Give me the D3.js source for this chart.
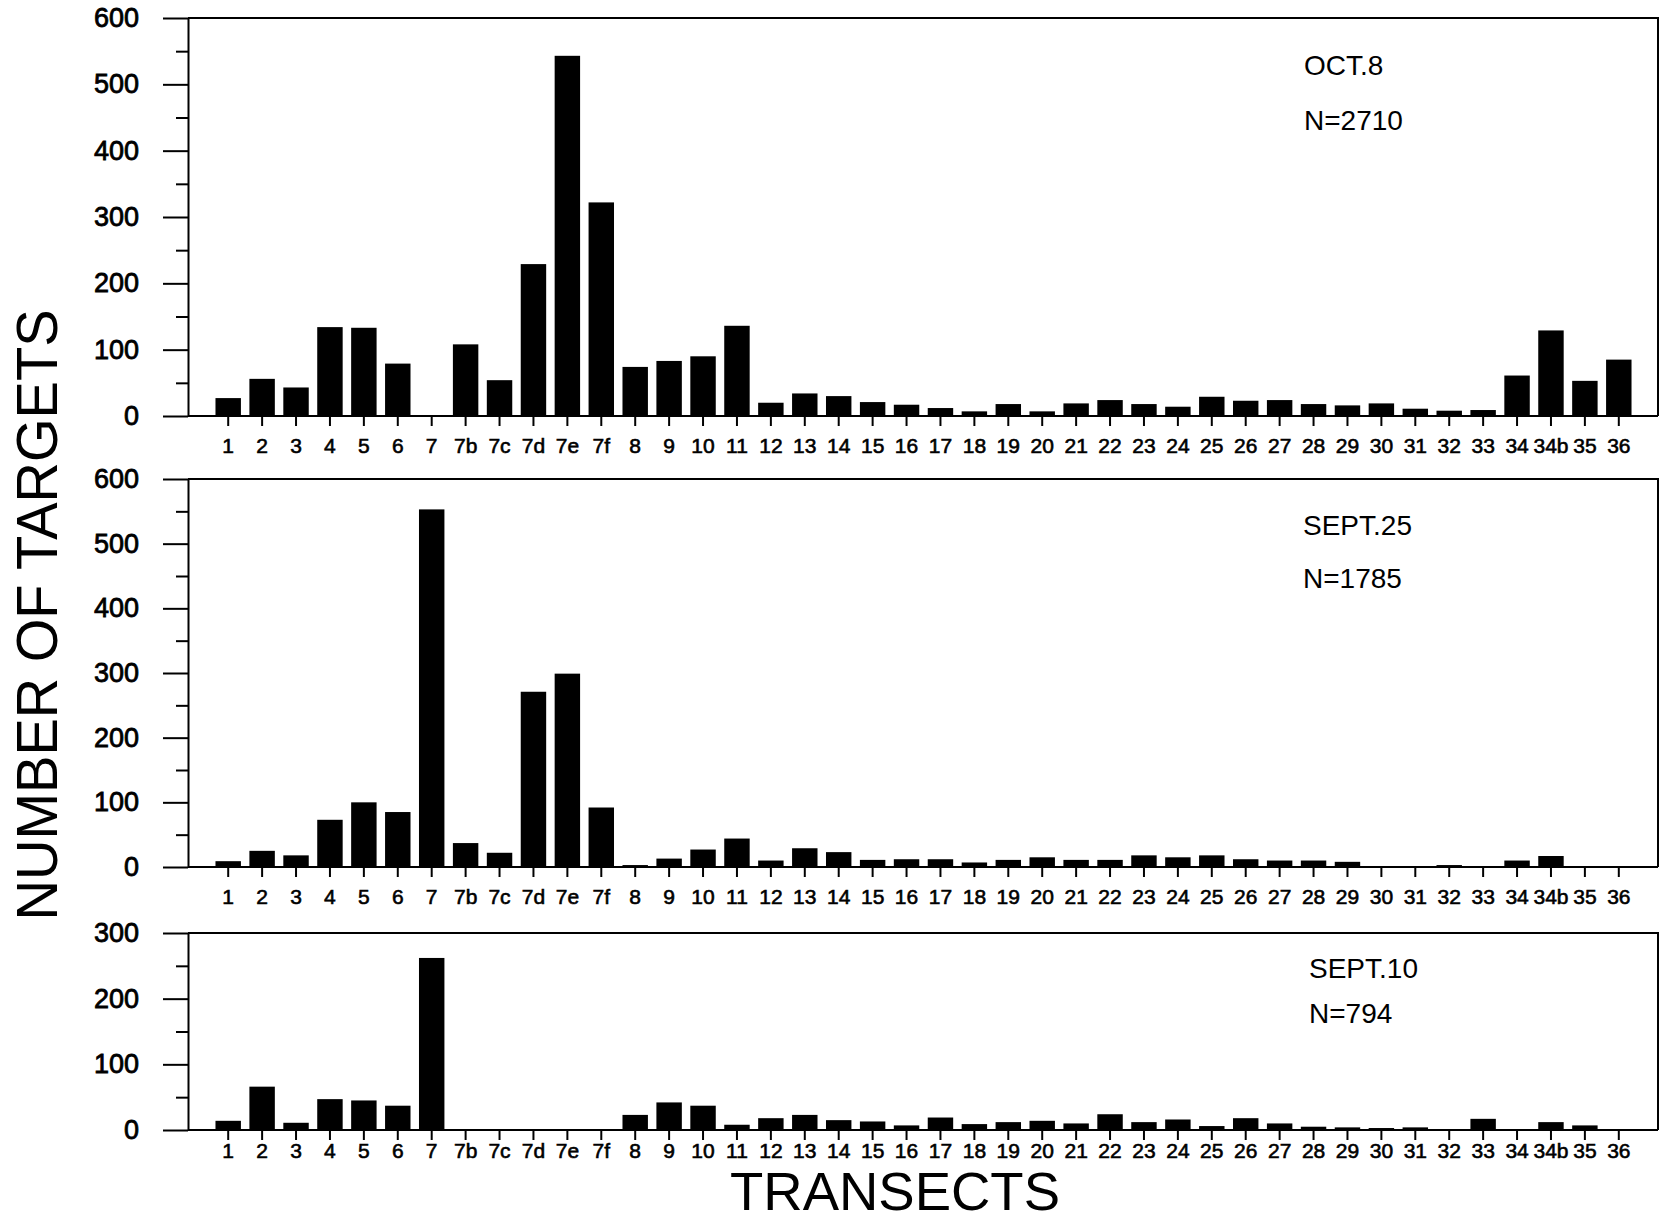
<!DOCTYPE html>
<meta charset="utf-8">

<!-- Load d3.js -->
<script src="https://d3js.org/d3.v7.min.js"></script>

<style>
  body { margin: 0; background: #fff; }
  text { font-family: "Liberation Sans", Arial, Helvetica, sans-serif; fill: #000; }
</style>

<!-- Create a div where the graph will take place -->
<div id="my_dataviz"></div>

<script>

// transect names along the x axis
var transects = ["1","2","3","4","5","6","7","7b","7c","7d","7e","7f",
  "8","9","10","11","12","13","14","15","16","17","18","19","20","21","22",
  "23","24","25","26","27","28","29","30","31","32","33","34","34b","35","36"];

// number of targets per transect
var oct8 = [27,56,43,134,133,79,0,108,54,229,543,322,
  74,83,90,136,20,34,30,21,17,12,7,18,7,19,24,
  18,14,29,23,24,18,16,19,11,8,9,61,129,53,85];

var sept25 = [9,25,18,73,100,85,553,37,22,271,299,92,
  3,13,27,44,10,29,23,11,12,12,7,11,15,11,11,
  18,15,18,12,10,10,8,0,0,3,0,10,17,0,0];

var sept10 = [14,66,11,47,45,37,262,0,0,0,0,0,
  23,42,37,8,18,23,15,13,7,19,9,12,14,10,24,
  12,16,6,18,10,5,4,3,4,1,17,0,12,7,0];

var dates = ["OCT.8", "SEPT.25", "SEPT.10"];
var counts = ["N=2710", "N=1785", "N=794"];

// y tick values
var majorTicks600 = [0,100,200,300,400,500,600];
var minorTicks600 = [50,150,250,350,450,550];
var majorTicks300 = [0,100,200,300];
var minorTicks300 = [50,150,250];

// set the dimensions of the page
var width = 1664, height = 1222;
var left = 188, right = 1658;

var svg = d3.select("#my_dataviz")
  .append("svg")
    .attr("width", width)
    .attr("height", height);

// panel layout (top, bottom of each plot box)
var panels = [
  {values: oct8,   top: 18,  bottom: 416,  max: 600, major: majorTicks600, minor: minorTicks600, pad: 12, dateY: 75,  nY: 130, noteX: 1304},
  {values: sept25, top: 479, bottom: 867,  max: 600, major: majorTicks600, minor: minorTicks600, pad: 12, dateY: 535, nY: 588, noteX: 1303},
  {values: sept10, top: 933, bottom: 1130, max: 300, major: majorTicks300, minor: minorTicks300, pad: 3,  dateY: 978, nY: 1023, noteX: 1309}
];

var x = d3.scaleBand()
  .domain(transects)
  .range([207, 1640])
  .padding(0.25);

panels.forEach(function(p, i) {

  var y = d3.scaleLinear()
    .domain([0, p.max])
    .range([p.bottom, p.top]);

  var g = svg.append("g");

  // frame: top and right side
  g.append("path")
    .attr("d", "M" + left + "," + p.top + "H" + right + "V" + p.bottom)
    .attr("fill", "none")
    .attr("stroke", "#000")
    .attr("stroke-width", 2);

  // Bars
  g.selectAll("rect")
    .data(p.values)
    .enter()
    .append("rect")
      .attr("x", function(d, j) { return x(transects[j]); })
      .attr("y", function(d) { return y(d); })
      .attr("width", x.bandwidth())
      .attr("height", function(d) { return p.bottom - y(d); })
      .attr("fill", "#000");

  // Y axis, major ticks with labels
  var yAxis = g.append("g")
    .attr("transform", "translate(" + left + ",0)")
    .call(d3.axisLeft(y).tickValues(p.major).tickSize(25).tickPadding(24).tickSizeOuter(0));
  yAxis.select(".domain").attr("stroke-width", 2);
  yAxis.selectAll(".tick line").attr("stroke-width", 2);
  yAxis.selectAll("text")
    .style("font-size", "27px")
    .style("stroke", "#000")
    .style("stroke-width", "0.8px");

  // minor ticks
  var yMinorAxis = g.append("g")
    .attr("transform", "translate(" + left + ",0)")
    .call(d3.axisLeft(y).tickValues(p.minor).tickSize(12).tickFormat(""));
  yMinorAxis.select(".domain").remove();
  yMinorAxis.selectAll(".tick line").attr("stroke-width", 2);

  // X axis
  var xAxis = g.append("g")
    .attr("transform", "translate(0," + p.bottom + ")")
    .call(d3.axisBottom(x).tickSize(10).tickPadding(p.pad).tickSizeOuter(0));
  xAxis.select(".domain")
    .attr("d", "M" + left + ",0H" + right)
    .attr("stroke-width", 2);
  xAxis.selectAll(".tick line").attr("stroke-width", 2);
  xAxis.selectAll("text")
    .style("font-size", "21px")
    .style("stroke", "#000")
    .style("stroke-width", "0.6px");

  // date and count inside the box
  g.append("text")
    .attr("x", p.noteX)
    .attr("y", p.dateY)
    .style("font-size", "28px")
    .text(dates[i]);
  g.append("text")
    .attr("x", p.noteX)
    .attr("y", p.nY)
    .style("font-size", "28px")
    .text(counts[i]);
});

// text label for the y axis
svg.append("text")
  .attr("transform", "translate(57,615) rotate(-90)")
  .attr("text-anchor", "middle")
  .attr("textLength", 611)
  .attr("lengthAdjust", "spacingAndGlyphs")
  .style("font-size", "58px")
  .text("NUMBER OF TARGETS");

// text label for the x axis
svg.append("text")
  .attr("x", 895)
  .attr("y", 1210)
  .attr("text-anchor", "middle")
  .attr("textLength", 330)
  .attr("lengthAdjust", "spacingAndGlyphs")
  .style("font-size", "53px")
  .text("TRANSECTS");

</script>
